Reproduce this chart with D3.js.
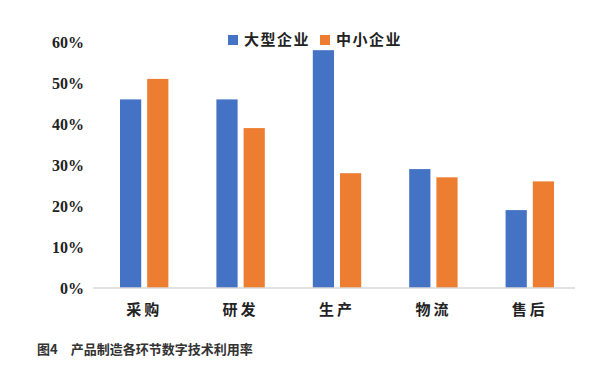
<!DOCTYPE html>
<html>
<head>
<meta charset="utf-8">
<script src="https://cdn.jsdelivr.net/npm/d3@7"></script>
<style>
  body { margin: 0; background: #fff; }
</style>
</head>
<body>
<div id="chart"></div>
<script>
// data
const categories = ["采购", "研发", "生产", "物流", "售后"]
const seriesNames = ["大型企业", "中小企业"]
const large = [46, 46, 58, 29, 19]
const small = [51, 39, 28, 27, 26]
const yTicks = [0, 10, 20, 30, 40, 50, 60]
const caption = "图4　产品制造各环节数字技术利用率"

const colors = ["#4472C4", "#ED7D31"]
const width = 607, height = 379
const margin = { top: 42, right: 29, bottom: 91, left: 96 }

const svg = d3.select("#chart").append("svg")
  .attr("width", width)
  .attr("height", height)

const rows = categories.map((c, i) => ({ cat: c, values: [large[i], small[i]] }))

var x = d3.scaleBand().domain(categories).range([margin.left, width - margin.right]).padding(0)
var x1 = d3.scaleBand().domain([0, 1]).range([24, x.bandwidth() - 24]).paddingInner(0.22)
var y = d3.scaleLinear().domain([0, 60]).range([height - margin.bottom, margin.top])

// y axis labels (no line)
svg.append("g")
  .attr("transform", "translate(84,0)")
  .call(d3.axisLeft(y).tickValues(yTicks).tickSize(0).tickPadding(0).tickFormat(d => d + "%"))
  .call(g => g.select(".domain").remove())
  .selectAll("text")
  .attr("font-family", "Liberation Serif, Times New Roman, serif")
  .attr("font-weight", "bold")
  .attr("font-size", 16)
  .attr("fill", "#222")

// bars
const groups = svg.append("g").selectAll("g")
  .data(rows)
  .join("g")
  .attr("transform", d => "translate(" + x(d.cat) + ",0)")

groups.selectAll("rect")
  .data(d => d.values.map((v, i) => ({ v: v, i: i })))
  .join("rect")
  .attr("x", d => x1(d.i))
  .attr("width", x1.bandwidth())
  .attr("y", d => y(d.v))
  .attr("height", d => y(0) - y(d.v))
  .attr("fill", d => colors[d.i])

// x axis
const xa = svg.append("g")
  .attr("transform", "translate(0," + y(0) + ")")
  .call(d3.axisBottom(x).tickSize(0).tickPadding(16))
xa.select(".domain").attr("stroke", "#d9d9d9").attr("stroke-width", 1.5)
  .attr("d", "M" + (margin.left - 3) + ",0H" + (width - margin.right - 3))
xa.selectAll("text")
  .attr("font-family", "Noto Sans CJK SC, sans-serif")
  .attr("font-weight", "bold")
  .attr("font-size", 15)
  .attr("letter-spacing", 3)
  .attr("fill", "#222")

// legend
const legend = svg.append("g").attr("transform", "translate(228,40)")
const lx = [0, 92]
seriesNames.forEach((name, i) => {
  legend.append("rect").attr("x", lx[i]).attr("y", -5).attr("width", 10).attr("height", 10).attr("fill", colors[i])
  legend.append("text").attr("x", lx[i] + 16).attr("y", 0).attr("dy", "0.35em")
    .attr("font-family", "Noto Sans CJK SC, sans-serif")
    .attr("font-weight", "bold")
    .attr("font-size", 15)
    .attr("letter-spacing", 1.5)
    .attr("fill", "#222")
    .text(name)
})

// caption
svg.append("text")
  .attr("x", 37).attr("y", 354)
  .attr("font-family", "Noto Sans CJK SC, sans-serif")
  .attr("font-weight", "bold")
  .attr("font-size", 13)
  .attr("fill", "#333")
  .text(caption)
</script>
</body>
</html>
